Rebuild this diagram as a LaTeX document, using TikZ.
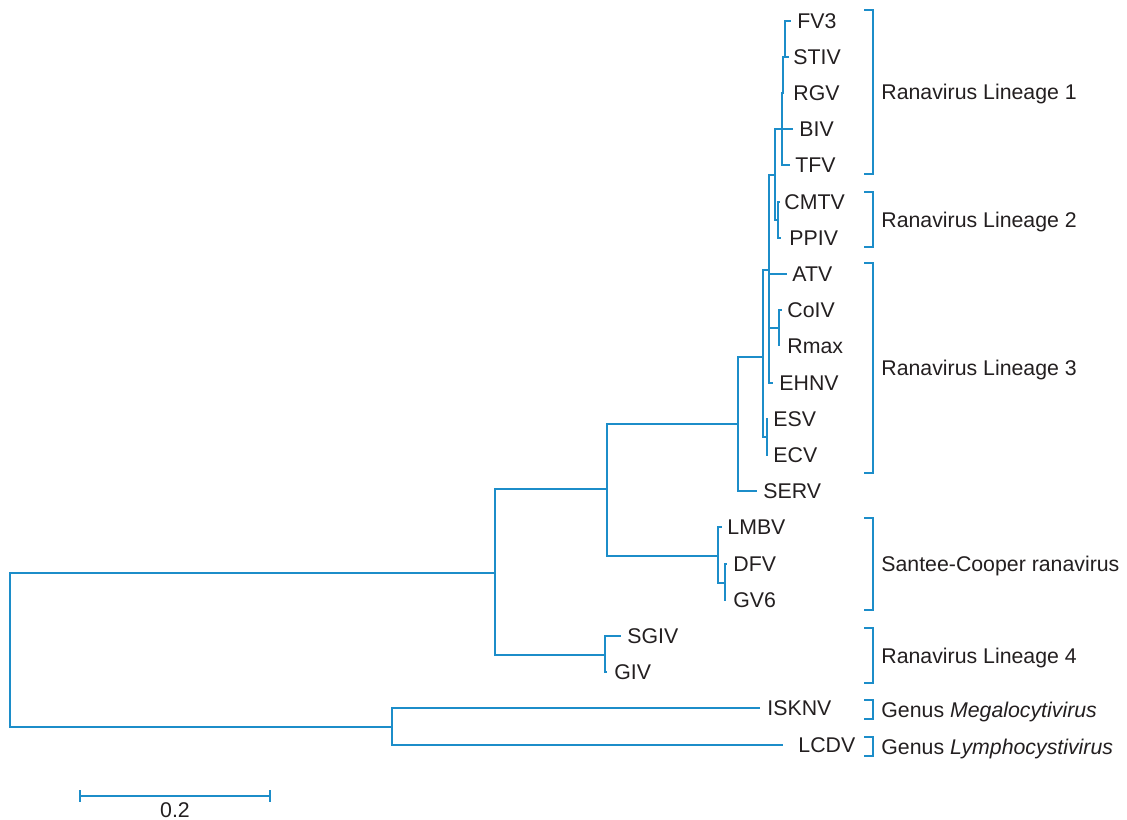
\documentclass[tikz,border=0pt]{standalone}
\usepackage{fontspec}
\setmainfont{Liberation Sans}
\definecolor{treeblue}{RGB}{28,141,201}
\definecolor{textgray}{RGB}{35,31,32}
\begin{document}
\begin{tikzpicture}[x=0.5pt,y=-0.5pt,
  br/.style={draw=treeblue, line width=1pt},
  lab/.style={anchor=base west, inner sep=0pt, text=textgray, font=\fontsize{10.65}{12}\selectfont},
  scl/.style={anchor=center, inner sep=0pt, text=textgray, font=\fontsize{10.65}{12}\selectfont}]
\useasboundingbox (0,0) rectangle (1127,819);

% leaf branch ends
\coordinate (eFV3) at (791,20.5);
\coordinate (eSTIV) at (789,56.7);
\coordinate (eRGV) at (784,92.9);
\coordinate (eBIV) at (793,129.1);
\coordinate (eTFV) at (790,165.3);
\coordinate (eCMTV) at (780,201.5);
\coordinate (ePPIV) at (781,237.7);
\coordinate (eATV) at (787,273.9);
\coordinate (eCoIV) at (782,310.1);
\coordinate (eRmax) at (779,346.3);
\coordinate (eEHNV) at (773,382.5);
\coordinate (eESV) at (768,418.7);
\coordinate (eECV) at (768,454.9);
\coordinate (eSERV) at (757,491.1);
\coordinate (eLMBV) at (722,527.3);
\coordinate (eDFV) at (727,563.5);
\coordinate (eGV6) at (726,599.7);
\coordinate (eSGIV) at (621,635.9);
\coordinate (eGIV) at (607,672.1);
\coordinate (eISKNV) at (760,708.3);
\coordinate (eLCDV) at (783,744.5);

% internal nodes
\coordinate (nS) at (785,56.7);
\coordinate (nR) at (783,92.9);
\coordinate (nQ) at (782,129.1);
\coordinate (nP) at (775,175);
\coordinate (nL2) at (778,219.6);
\coordinate (nB) at (769,270);
\coordinate (nCR) at (779,328);
\coordinate (nC) at (763,357);
\coordinate (nEE) at (767,437);
\coordinate (nD) at (738,424);
\coordinate (nE) at (607,489);
\coordinate (nSC) at (718,556);
\coordinate (nDG) at (725,583);
\coordinate (nF) at (495,573);
\coordinate (nG) at (605,655);
\coordinate (nRoot) at (10,650);
\coordinate (nH) at (392,727);

% branches
\draw[br] (nS) |- (eFV3);
\draw[br] (nS) |- (eSTIV);
\draw[br] (nR) |- (nS);
\draw[br] (nR) |- (eRGV);
\draw[br] (nQ) |- (nR);
\draw[br] (nQ) |- (eBIV);
\draw[br] (nQ) |- (eTFV);
\draw[br] (nP) |- (nQ);
\draw[br] (nP) |- (nL2);
\draw[br] (nL2) |- (eCMTV);
\draw[br] (nL2) |- (ePPIV);
\draw[br] (nB) |- (nP);
\draw[br] (nB) |- (eATV);
\draw[br] (nB) |- (nCR);
\draw[br] (nB) |- (eEHNV);
\draw[br] (nCR) |- (eCoIV);
\draw[br] (nCR) |- (eRmax);
\draw[br] (nC) |- (nB);
\draw[br] (nC) |- (nEE);
\draw[br] (nEE) |- (eESV);
\draw[br] (nEE) |- (eECV);
\draw[br] (nD) |- (nC);
\draw[br] (nD) |- (eSERV);
\draw[br] (nE) |- (nD);
\draw[br] (nE) |- (nSC);
\draw[br] (nSC) |- (eLMBV);
\draw[br] (nSC) |- (nDG);
\draw[br] (nDG) |- (eDFV);
\draw[br] (nDG) |- (eGV6);
\draw[br] (nF) |- (nE);
\draw[br] (nF) |- (nG);
\draw[br] (nG) |- (eSGIV);
\draw[br] (nG) |- (eGIV);
\draw[br] (nRoot) |- (nF);
\draw[br] (nRoot) |- (nH);
\draw[br] (nH) |- (eISKNV);
\draw[br] (nH) |- (eLCDV);

% leaf labels
\node[lab] (tFV3) at (797,28) {FV3};
\node[lab] (tSTIV) at (793,64.2) {STIV};
\node[lab] (tRGV) at (793,100.4) {RGV};
\node[lab] (tBIV) at (799,136.6) {BIV};
\node[lab] (tTFV) at (795,172.8) {TFV};
\node[lab] (tCMTV) at (784,209) {CMTV};
\node[lab] (tPPIV) at (789,245.2) {PPIV};
\node[lab] (tATV) at (792,281.4) {ATV};
\node[lab] (tCoIV) at (787,317.6) {CoIV};
\node[lab] (tRmax) at (787,353.8) {Rmax};
\node[lab] (tEHNV) at (779,390) {EHNV};
\node[lab] (tESV) at (773,426.2) {ESV};
\node[lab] (tECV) at (773,462.4) {ECV};
\node[lab] (tSERV) at (763,498.6) {SERV};
\node[lab] (tLMBV) at (727,534.8) {LMBV};
\node[lab] (tDFV) at (733,571) {DFV};
\node[lab] (tGV6) at (733,607.2) {GV6};
\node[lab] (tSGIV) at (627,643.4) {SGIV};
\node[lab] (tGIV) at (614,679.6) {GIV};
\node[lab] (tISKNV) at (767,715.8) {ISKNV};
\node[lab] (tLCDV) at (798,752) {LCDV};

% brackets
\draw[br] (864,10) -- (873,10) -- (873,174) -- (864,174);
\draw[br] (864,192) -- (873,192) -- (873,247) -- (864,247);
\draw[br] (864,263) -- (873,263) -- (873,473) -- (864,473);
\draw[br] (864,518) -- (873,518) -- (873,610) -- (864,610);
\draw[br] (864,628) -- (873,628) -- (873,683) -- (864,683);
\draw[br] (864,700) -- (873,700) -- (873,719) -- (864,719);
\draw[br] (864,737) -- (873,737) -- (873,756) -- (864,756);

\node[lab] (gL1) at (881,99.5) {Ranavirus Lineage 1};
\node[lab] (gL2) at (881,227) {Ranavirus Lineage 2};
\node[lab] (gL3) at (881,375.5) {Ranavirus Lineage 3};
\node[lab] (gSC) at (881,571.5) {Santee-Cooper ranavirus};
\node[lab] (gL4) at (881,663) {Ranavirus Lineage 4};
\node[lab] (gMeg) at (881,717) {Genus \textit{Megalocytivirus}};
\node[lab] (gLym) at (881,754) {Genus \textit{Lymphocystivirus}};

% scale bar
\coordinate (sA) at (80,796);
\coordinate (sB) at (270,796);
\draw[br] (sA) -- (sB);
\draw[br] ([yshift=3pt]sA) -- ([yshift=-3pt]sA);
\draw[br] ([yshift=3pt]sB) -- ([yshift=-3pt]sB);
\node[scl] (sLab) at (175,810) {0.2};
\end{tikzpicture}
\end{document}
